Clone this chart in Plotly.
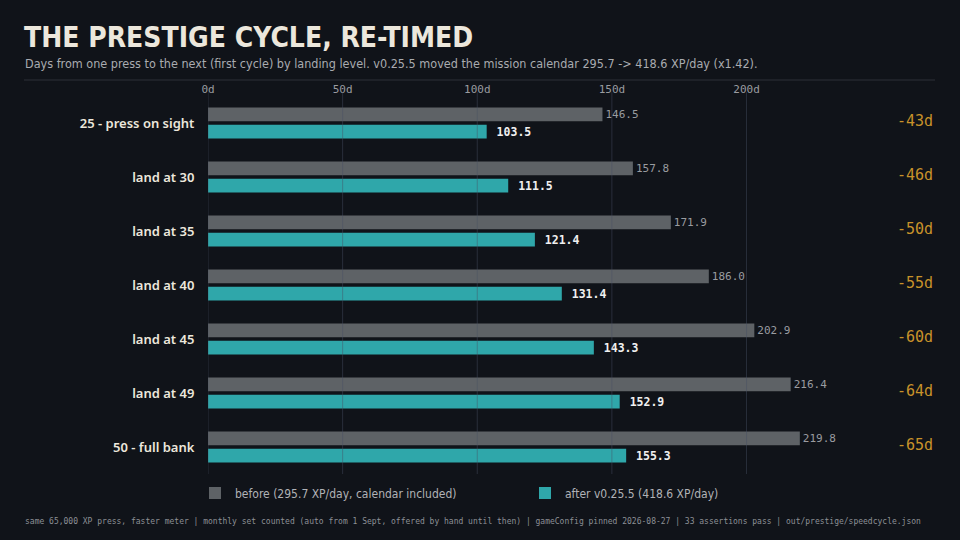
import plotly.graph_objects as go

# ---- data ----
categories = ["25 - press on sight", "land at 30", "land at 35", "land at 40",
              "land at 45", "land at 49", "50 - full bank"]
before_days = [146.5, 157.8, 171.9, 186.0, 202.9, 216.4, 219.8]
after_days = [103.5, 111.5, 121.4, 131.4, 143.3, 152.9, 155.3]
delta_labels = ["-43d", "-46d", "-50d", "-55d", "-60d", "-64d", "-65d"]
tick_vals = [0, 50, 100, 150, 200]
tick_text = ["0d", "50d", "100d", "150d", "200d"]

# ---- page geometry ----
W, H = 960, 540
ML, MR, MT, MB = 208, 25, 96, 66
PW, PH = W - ML - MR, H - MT - MB
X_MAX = 270


def px(x):
    return (x - ML) / PW


def py(y):
    return (H - MB - y) / PH


BG = "#101319"
GREY = "#5e6266"
TEAL = "#2fa7aa"
GOLD = "#c8922a"
CREAM = "#ece7dc"
MONO = "DejaVu Sans Mono"
COND = "DejaVu Sans Condensed"

fig = go.Figure()
fig.add_trace(go.Bar(
    y=categories, x=before_days, orientation="h",
    name="before (295.7 XP/day, calendar included)",
    marker=dict(color=GREY, line=dict(width=0)),
    text=[f"{v:.1f}" for v in before_days], textposition="outside",
    textfont=dict(family=MONO, size=11, color="#9a9ca0"),
    cliponaxis=False, constraintext="none",
))
fig.add_trace(go.Bar(
    y=categories, x=after_days, orientation="h",
    name="after v0.25.5 (418.6 XP/day)",
    marker=dict(color=TEAL, line=dict(width=0)),
    text=[f"<b> {v:.1f}</b>" for v in after_days], textposition="outside",
    textfont=dict(family=MONO, size=11.5, color="#f0f0f0"),
    cliponaxis=False, constraintext="none",
))

# change labels on the right
for cat, d in zip(categories, delta_labels):
    fig.add_annotation(x=X_MAX, y=cat, xref="x", yref="y", text=d, yshift=2,
                       xanchor="right", showarrow=False,
                       font=dict(family=MONO, size=15, color=GOLD))

# gridlines drawn over the bars
for v in tick_vals:
    fig.add_shape(type="line", xref="x", yref="paper", x0=v, x1=v, y0=0, y1=1.01,
                  line=dict(color="rgba(70,80,100,0.45)", width=1), layer="above")

# rule under the header
fig.add_shape(type="line", xref="paper", yref="paper", x0=px(24), x1=px(935),
              y0=py(80), y1=py(80), line=dict(color="#2c3038", width=1))

fig.add_annotation(xref="paper", yref="paper", x=px(22), y=py(37), xanchor="left",
                   yanchor="middle", showarrow=False,
                   text="<b>THE PRESTIGE CYCLE, RE-TIMED</b>",
                   font=dict(family=COND, size=28, color=CREAM))
fig.add_annotation(xref="paper", yref="paper", x=px(23), y=py(63), xanchor="left",
                   yanchor="middle", showarrow=False,
                   text="Days from one press to the next (first cycle) by landing level. "
                        "v0.25.5 moved the mission calendar 295.7 -> 418.6 XP/day (x1.42).",
                   font=dict(family=COND, size=12.5, color="#a9abb0"))
fig.add_annotation(xref="paper", yref="paper", x=px(23), y=py(521), xanchor="left",
                   yanchor="middle", showarrow=False,
                   text="same 65,000 XP press, faster meter | monthly set counted (auto from 1 Sept, "
                        "offered by hand until then) | gameConfig pinned 2026-08-27 | "
                        "33 assertions pass | out/prestige/speedcycle.json",
                   font=dict(family=MONO, size=8, color="#8d9096"))

fig.update_layout(
    width=W, height=H,
    margin=dict(l=ML, r=MR, t=MT, b=MB),
    paper_bgcolor=BG, plot_bgcolor=BG,
    barmode="group", bargap=0.36, bargroupgap=0.2,
    showlegend=True,
    legend=dict(orientation="h", x=px(195), xanchor="left", y=py(493), yanchor="middle",
                entrywidth=285, entrywidthmode="pixels",
                font=dict(family=COND, size=12, color="#b0b2b6"),
                bgcolor="rgba(0,0,0,0)"),
    xaxis=dict(range=[0, X_MAX], side="top", tickvals=tick_vals, ticktext=tick_text,
               showgrid=False, zeroline=False, showline=False, ticks="",
               tickfont=dict(family=MONO, size=11, color="#9a9ca0")),
    yaxis=dict(autorange="reversed", showgrid=False, zeroline=False, showline=False,
               ticks="outside", ticklen=10, tickcolor="rgba(0,0,0,0)",
               tickfont=dict(family="Noto Sans", size=13, color=CREAM, weight=600)),
)

fig.write_html("out.html", config={"displayModeBar": False},
               post_script="document.body.style.margin='0';"
                           "document.body.style.background='#101319';")
